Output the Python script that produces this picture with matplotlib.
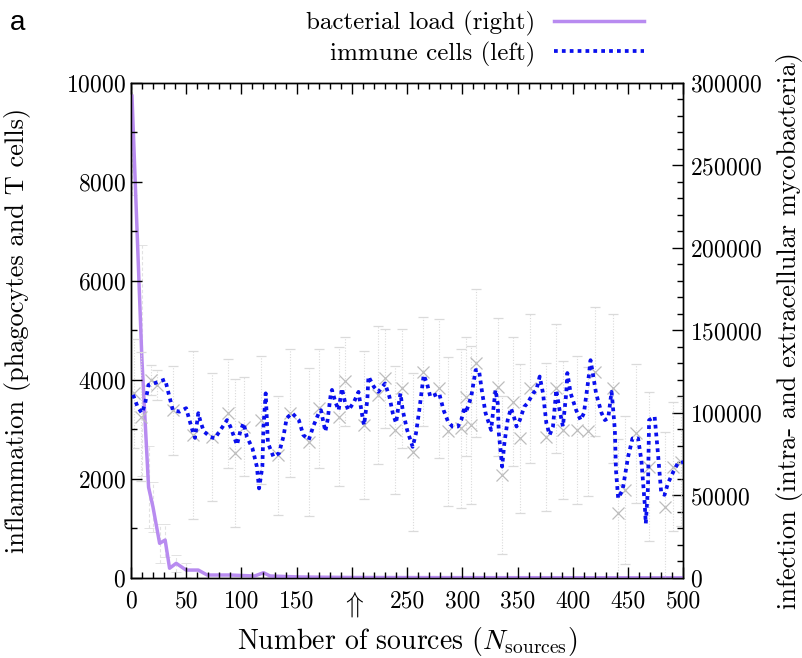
import matplotlib
matplotlib.use("Agg")
import matplotlib.pyplot as plt
from matplotlib.ticker import MultipleLocator, FixedLocator, FixedFormatter
from matplotlib.lines import Line2D

plt.rcParams["font.family"] = "serif"
plt.rcParams["font.serif"] = ["cmr10"]
plt.rcParams["mathtext.fontset"] = "cm"
plt.rcParams["axes.formatter.use_mathtext"] = True

# immune cells (left axis), smoothed curve
imm_n = [2, 6, 10, 13, 16, 22, 31, 34, 38, 44, 50, 53, 56, 58, 61, 63, 66, 72, 76, 82,
         87, 90, 96, 99, 102, 105, 110, 114, 116, 119, 120, 122, 124, 129, 134, 138, 141, 146, 152, 156,
         161, 165, 170, 172, 176, 178, 181, 182, 185, 188, 191, 194, 197, 202, 206, 209, 211, 214, 215, 220,
         224, 230, 234, 237, 240, 243, 244, 246, 250, 255, 258, 261, 265, 268, 271, 279, 283, 287, 291, 296,
         299, 302, 303, 308, 312, 315, 318, 321, 326, 330, 332, 333, 336, 338, 341, 344, 347, 349, 352, 356,
         359, 364, 367, 370, 373, 376, 379, 382, 385, 388, 391, 394, 395, 398, 403, 407, 410, 414, 416, 418,
         421, 426, 429, 432, 435, 436, 438, 439, 441, 445, 450, 454, 459, 462, 465, 466, 468, 469, 474, 477,
         480, 483, 486, 491, 495, 500]
imm_v = [3700, 3460, 3330, 3540, 3900, 3940, 4010, 3740, 3390, 3360, 3430, 3190, 2960, 2830, 3330, 3160, 2960, 2850, 2820, 3020,
         3190, 3060, 2690, 2960, 3130, 2850, 2620, 2250, 1810, 2250, 3060, 3730, 2730, 2450, 2520, 2850, 3230, 3330, 3190, 2890,
         2790, 3060, 3330, 3390, 2960, 3190, 3730, 3800, 3560, 3390, 3830, 3530, 3390, 3560, 3760, 3330, 3090, 3600, 4070, 3860,
         3760, 3930, 3660, 3330, 3130, 3600, 3730, 3390, 2990, 2650, 2920, 3390, 4100, 3930, 3660, 3730, 3390, 3160, 3060, 3060,
         3190, 3460, 3330, 3660, 4200, 4200, 3730, 3330, 2990, 3800, 3530, 2920, 2250, 2720, 3190, 3430, 3230, 3060, 3190, 3460,
         3530, 3730, 3800, 4070, 3730, 3130, 2890, 3060, 3800, 3390, 3060, 3730, 4140, 3730, 3390, 3190, 3330, 4000, 4400, 4140,
         3730, 3330, 3190, 3230, 3760, 3530, 2990, 2180, 1610, 1780, 2450, 2820, 2820, 2380, 1510, 1100, 1840, 3190, 3260, 2520,
         1710, 1680, 1910, 2150, 2320, 2340]

# raw immune-cell samples (grey crosses) with error bars
raw_n = [3, 9, 18, 24, 38, 56, 73, 88, 94, 102, 118, 133, 144, 161, 170, 188, 194, 211, 224, 230,
         239, 245, 255, 264, 279, 287, 299, 303, 308, 312, 332, 336, 346, 352, 361, 376, 385, 391, 404, 414,
         420, 436, 441, 447, 457, 469, 483, 491, 498]
raw_v = [3730, 3260, 4000, 3900, 3390, 2890, 2850, 3330, 2520, 3060, 3190, 2480, 3330, 2750, 3430, 3260, 3970, 3090, 3700, 4030,
         2990, 3830, 2550, 4170, 3830, 2960, 3020, 3660, 3090, 4340, 3860, 2080, 3560, 2820, 3830, 2850, 3830, 2990, 2990, 2960,
         4170, 3830, 1310, 1780, 2920, 2250, 1440, 2250, 2350]
raw_err = [1100, 1300, 300, 300, 900, 1700, 1300, 1100, 1500, 1000, 1300, 1200, 1300, 1500, 1200, 1400, 900, 1500, 1400, 1000,
           1300, 1200, 1600, 1100, 1400, 1500, 1600, 1200, 1600, 1500, 1400, 1600, 1300, 1500, 1500, 1500, 1300, 1400, 1500, 1300,
           1300, 1500, 1500, 1500, 1400, 1500, 1500, 1300, 1300]

# bacterial load (right axis)
bac_n = [1, 10, 16, 20, 26, 31, 35, 41, 50, 61, 69, 90, 112, 120, 126, 153, 200, 300, 400, 500]
bac_v = [292000, 132000, 55000, 43000, 21000, 23000, 5900, 8900, 4800, 4800,
         1800, 1800, 1200, 3200, 1200, 600, 300, 200, 150, 100]
bac_err_n = [1, 10, 16, 20, 26, 31, 41, 50]
bac_err_v = [292000, 132000, 55000, 43000, 21000, 23000, 8900, 4800]
bac_err = [60000, 70000, 25000, 15000, 12000, 10000, 5000, 4000]

xtick_vals = [0, 50, 100, 150, 200, 250, 300, 350, 400, 450, 500]
xtick_text = ["0", "50", "100", "150", r"$\Uparrow$", "250", "300", "350", "400", "450", "500"]

PURPLE = "#b88bf0"
BLUE = "#0a10ee"
TICK_FS = 17
LABEL_FS = 19

fig = plt.figure(figsize=(8.03, 6.58), dpi=100)
ax = fig.add_axes([0.163, 0.1216, 0.688, 0.7523])
ax2 = ax.twinx()

eb1 = ax.errorbar(raw_n, raw_v, yerr=raw_err, fmt="x", color="#bdbdbd", ms=9, mew=0.9,
                  ecolor="#dadada", elinewidth=0.8, capsize=3.5, capthick=0.7, ls="none", zorder=1)
for art in eb1.lines[2]:
    art.set_linestyle((0, (1, 1.5)))
ax.plot(imm_n, imm_v, color=BLUE, lw=2.7, dashes=(1, 1.1), zorder=3)

eb2 = ax2.errorbar(bac_err_n, bac_err_v, yerr=bac_err, fmt="none", ecolor="#e2e2e2",
                   elinewidth=0.8, capsize=3.5, capthick=0.7, zorder=1)
for art in eb2.lines[2]:
    art.set_linestyle((0, (3, 2)))
ax2.plot(bac_n, bac_v, color=PURPLE, lw=2.5, zorder=4)

ax.set_xlim(0, 500)
ax.set_ylim(0, 10000)
ax2.set_ylim(0, 300000)
ax.set_zorder(ax2.get_zorder() + 1)
ax.patch.set_visible(False)

ax.xaxis.set_major_locator(FixedLocator(xtick_vals))
ax.xaxis.set_major_formatter(FixedFormatter(xtick_text))
ax.xaxis.set_minor_locator(MultipleLocator(10))
ax.yaxis.set_major_locator(MultipleLocator(2000))
ax.yaxis.set_minor_locator(MultipleLocator(1000))
ax2.yaxis.set_major_locator(MultipleLocator(50000))
ax2.yaxis.set_minor_locator(MultipleLocator(10000))

ax.tick_params(which="both", direction="in", top=True, right=False, labelsize=TICK_FS, width=1)
ax.tick_params(which="major", length=8)
ax.tick_params(which="minor", length=4)
ax.tick_params(axis="x", pad=9)
ax2.tick_params(which="both", direction="in", labelsize=TICK_FS, width=1)
ax2.tick_params(which="major", length=8, pad=5)
ax2.tick_params(which="minor", length=4)
ax.get_xticklabels()[4].set_fontsize(21)

for a in (ax, ax2):
    for s in a.spines.values():
        s.set_linewidth(1.0)

ax.set_xlabel(r"Number of sources ($N_{\rm sources}$)", fontsize=20, labelpad=4)
ax.set_ylabel("inflammation (phagocytes and T cells)", fontsize=LABEL_FS, labelpad=25)
ax2.set_ylabel("infection (intra- and extracellular mycobacteria)", fontsize=LABEL_FS, labelpad=10)

handles = [Line2D([], [], color=PURPLE, lw=2.5),
           Line2D([], [], color=BLUE, lw=2.7, dashes=(1, 1.1))]
fig.legend(handles, ["bacterial load (right)", "immune cells (left)"],
           loc="upper right", bbox_to_anchor=(0.83, 1.017), frameon=False,
           markerfirst=False, fontsize=18, handlelength=3.6, labelspacing=0.2,
           handletextpad=0.75)

fig.text(0.012, 0.955, "a", fontsize=20, family="Liberation Sans")

fig.savefig("out.png", dpi=100)
